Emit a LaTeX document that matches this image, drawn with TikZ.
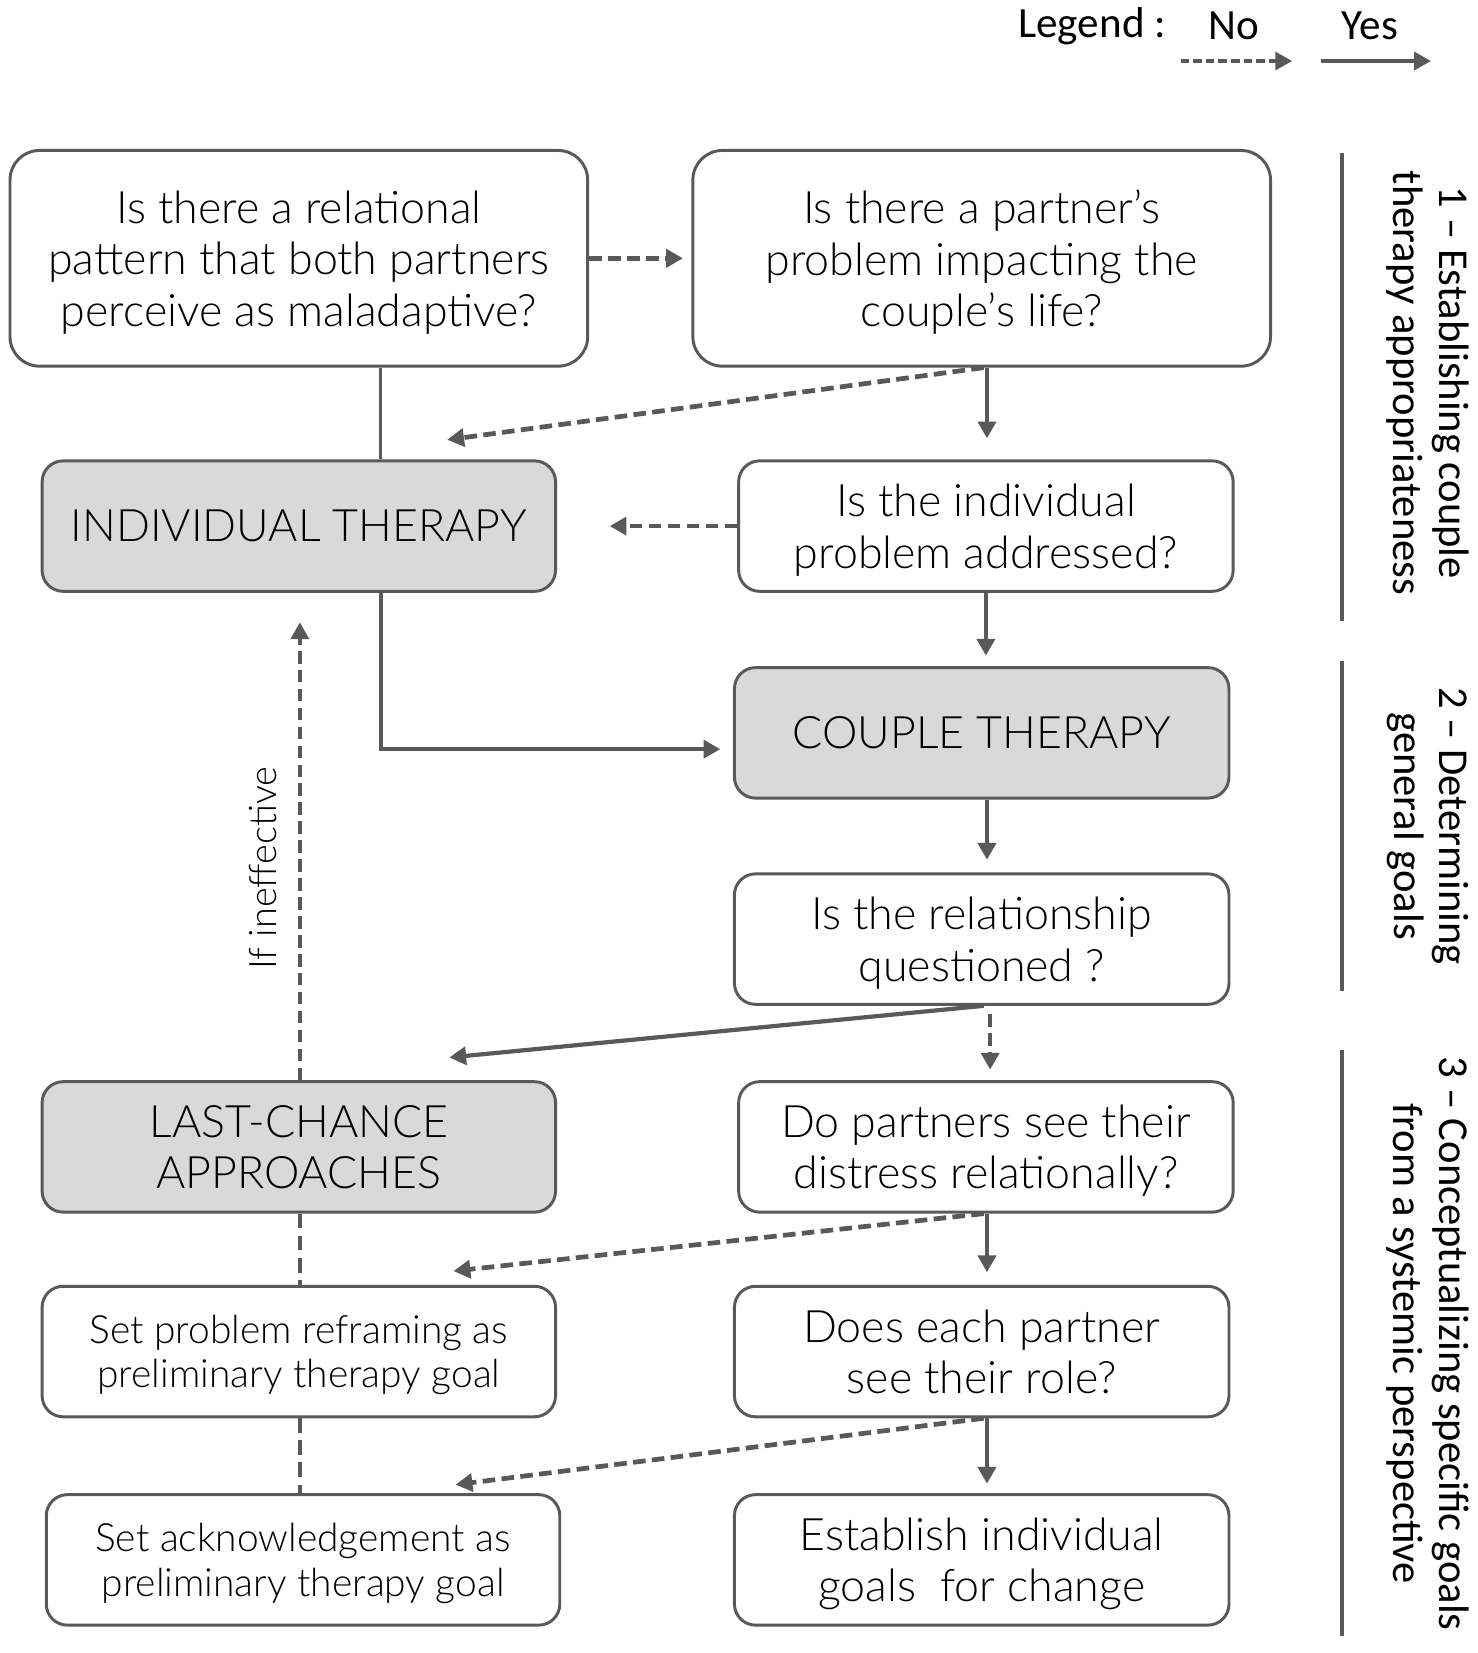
\documentclass[tikz,border=0pt]{standalone}
\usepackage{fontspec}
\usetikzlibrary{arrows.meta}
\newfontfamily\bxfont{Lato-Light}[Extension=.ttf]
\newfontfamily\legfont{Carlito}
\definecolor{ln}{HTML}{595959}
\definecolor{gfill}{HTML}{D9D9D9}
\tikzset{
  box/.style={draw=ln, line width=2.8pt, rounded corners=20pt, fill=white, align=center,
    inner sep=0pt, text depth=0pt, font=\bxfont\fontsize{42.5}{49}\selectfont},
  bigbox/.style={box, rounded corners=28pt, minimum width=549pt, minimum height=205pt},
  lbox/.style={box, minimum width=488pt, minimum height=124pt},
  rbox/.style={box, minimum width=470pt, minimum height=124pt},
  gbox/.style={lbox, fill=gfill},
  smalltext/.style={font=\bxfont\fontsize{37}{42}\selectfont},
  yes/.style={draw=ln, line width=4pt, -{Triangle[length=16pt,width=17pt]}},
  no/.style={yes, line width=4.5pt, dash pattern=on 12pt off 6pt},
  noline/.style={draw=ln, line width=3.2pt, dash pattern=on 14pt off 7pt},
  yesline/.style={draw=ln, line width=3pt},
  bar/.style={draw=ln, line width=3.8pt},
  side/.style={font=\legfont\fontsize{40.5}{43}\selectfont, align=center, rotate=-90},
  legtext/.style={font=\legfont\fontsize{41}{48}\selectfont},
}
\begin{document}
\begin{tikzpicture}[x=1pt,y=-1pt]
\useasboundingbox (0,0) rectangle (1404,1571);
% legend
\node[legtext] (leg) at (1038,25) {Legend :};
\node[legtext] (legno) at (1173,25) {No};
\node[legtext] (legyes) at (1302,25) {Yes};
\coordinate (n1) at (1122,58); \coordinate (n2) at (1228,58);
\coordinate (y1) at (1255,58); \coordinate (y2) at (1360,58);
\draw[no, line width=3.5pt, dash pattern=on 8pt off 4pt] (n1) -- (n2);
\draw[yes, line width=3.5pt] (y1) -- (y2);
% boxes
\node[bigbox] (A) at (284,245.5) {Is there a relational\\pattern that both partners\\perceive as maladaptive?};
\node[bigbox] (B) at (933,245.5) {Is there a partner’s\\problem impacting the\\couple’s life?};
\node[gbox] (C) at (284,500) {INDIVIDUAL THERAPY};
\node[rbox] (D) at (937,500) {Is the individual\\problem addressed?};
\node[rbox, fill=gfill] (E) at (933,696.5) {COUPLE THERAPY};
\node[rbox] (F) at (933,892.5) {Is the relationship\\questioned ?};
\node[gbox] (G) at (284,1090) {LAST-CHANCE\\APPROACHES};
\node[rbox] (H) at (937,1090) {Do partners see their\\distress relationally?};
\node[lbox, smalltext] (I) at (284,1284.5) {Set problem reframing as\\preliminary therapy goal};
\node[rbox] (J) at (933,1284.5) {Does each partner\\see their role?};
\node[lbox, smalltext] (K) at (288,1482.5) {Set acknowledgement as\\preliminary therapy goal};
\node[rbox] (L) at (933,1482.5) {Establish individual\\goals~ for change};
% free ends
\coordinate (tC1) at (425,418);
\coordinate (tG) at (427,1005);
\coordinate (tI) at (431,1208);
\coordinate (tK) at (433,1411);
% connectors
\draw[no, shorten >=8pt] (A.east) -- (B.west);
\draw[yesline] ([xshift=78pt]A.south) -- ([xshift=78pt]C.north);
\draw[no] ([xshift=2pt]B.south) -- (tC1);
\draw[yes, shorten >=20pt] ([xshift=5pt]B.south) -- ([xshift=5pt]B.south |- D.north);
\draw[no, shorten >=50pt] (D.west) -- (C.east);
\draw[yes, shorten >=10pt] (D.south) -- (D.south |- E.north);
\draw[yes, shorten >=12pt] ([xshift=78pt]C.south) |- ([yshift=-15.5pt]E.west);
\draw[yes, shorten >=12pt] ([xshift=5pt]E.south) -- ([xshift=5pt]E.south |- F.north);
\draw[yes] ([xshift=2pt]F.south) -- (tG);
\draw[no, shorten >=10pt] ([xshift=8pt,yshift=-8pt]F.south) -- ([xshift=8pt]F.south |- H.north);
\draw[no, line width=3.5pt, dash pattern=on 12pt off 6pt, shorten >=28pt] ([xshift=1pt]G.north) -- ([xshift=1pt]C.south)
  node[pos=0.435, sloped, above=17pt, font=\bxfont\fontsize{36}{40}\selectfont] (lbl) {If ineffective};
\draw[noline] ([xshift=1pt]G.south) -- ([xshift=1pt]I.north);
\draw[no] ([xshift=-2pt]H.south) -- (tI);
\draw[yes, shorten >=12pt] ([xshift=1pt]H.south) -- ([xshift=1pt]H.south |- J.north);
\draw[noline] ([xshift=1pt]I.south) -- ([xshift=1pt]I.south |- K.north);
\draw[no] ([xshift=2pt]J.south) -- (tK);
\draw[yes, shorten >=9pt] ([xshift=5pt]J.south) -- ([xshift=5pt]J.south |- L.north);
% phase bars and labels
\draw[bar] (1275,145) -- (1275,590);
\draw[bar] (1275,628) -- (1275,942);
\draw[bar] (1275,998) -- (1275,1555);
\node[side] (s1) at (1357,364) {1 – Establishing couple\\therapy appropriateness};
\node[side] (s2) at (1357,785) {2 – Determining\\general goals};
\node[side] (s3) at (1357,1277) {3 – Conceptualizing specific goals\\from a systemic perspective};
\end{tikzpicture}
\end{document}
